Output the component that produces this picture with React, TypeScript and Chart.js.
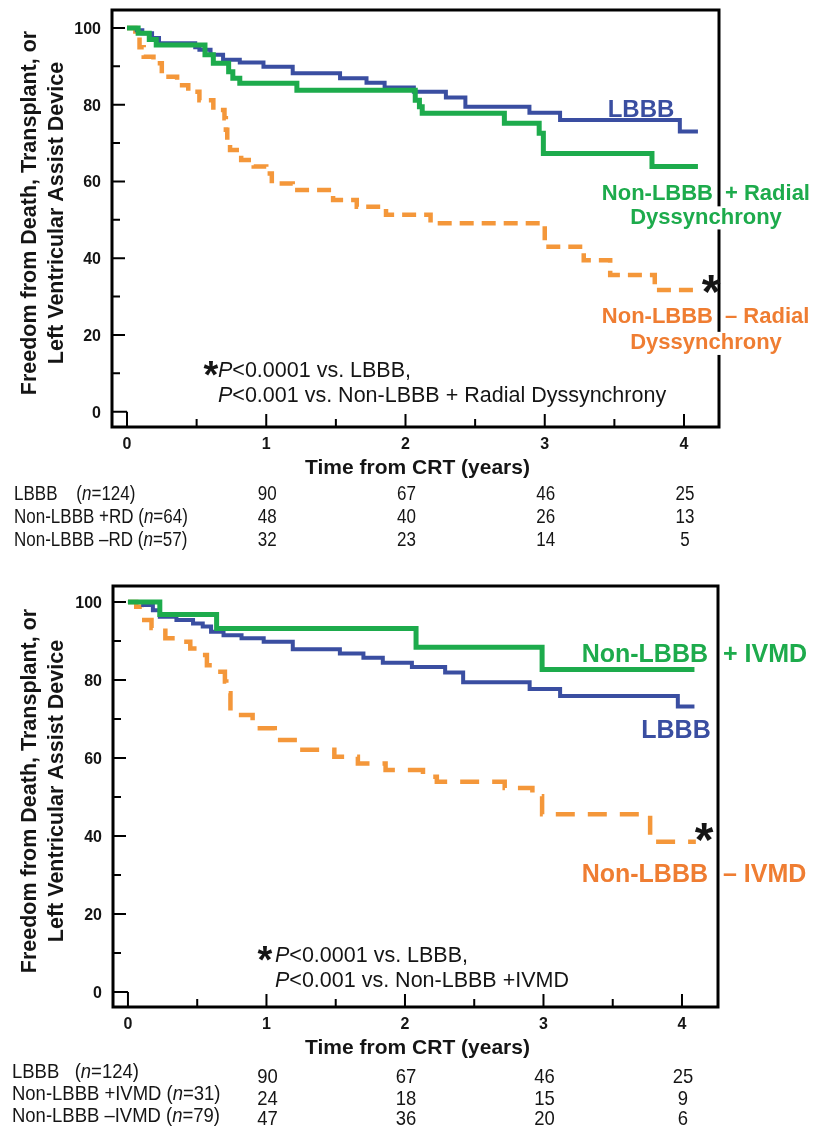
import React, { useEffect, useRef } from 'react';
import { Chart, registerables } from 'chart.js';

Chart.register(...registerables);

const FONT = '"Liberation Sans", Arial, Helvetica, sans-serif';
const BLUE = '#3a4ea1';
const GREEN = '#1dab4c';
const ORANGE_LINE = '#f4973a';
const ORANGE_TEXT = '#ef7d32';
const INK = '#151515';

// ---------- Shared axes ----------
const xTickValues = [0, 1, 2, 3, 4];
const xMinorTickValues = [0.5, 1.5, 2.5, 3.5];
const yTickValues = [0, 20, 40, 60, 80, 100];
const yMinorTickValues = [10, 30, 50, 70, 90];
const xAxisTitle = 'Time from CRT (years)';
const yAxisTitle = ['Freedom from Death, Transplant, or', 'Left Ventricular Assist Device'];
const riskTimes = [1, 2, 3, 4];

// ---------- Panel A (radial dyssynchrony) ----------
const aLbbbTimes = [0, 0.07, 0.11, 0.18, 0.23, 0.49, 0.52, 0.6, 0.69, 0.81, 0.98, 1.19, 1.53, 1.72, 1.85, 2.06, 2.29, 2.43, 2.89, 3.11, 3.97, 4.1];
const aLbbbSurv = [100, 99.4, 98.6, 97.4, 96.0, 95.0, 94.3, 93.0, 91.7, 91.0, 89.9, 88.2, 86.9, 85.7, 84.5, 83.4, 81.9, 79.5, 77.9, 76.0, 73.0, 73.0];

const aRdPlusTimes = [0, 0.08, 0.16, 0.21, 0.56, 0.62, 0.73, 0.76, 0.81, 1.22, 2.07, 2.1, 2.12, 2.71, 2.96, 2.99, 3.77, 4.1];
const aRdPlusSurv = [100, 98.6, 97.0, 95.6, 93.0, 90.8, 88.6, 86.9, 85.6, 83.8, 81.2, 79.5, 77.8, 75.2, 72.6, 67.3, 63.9, 63.9];

const aRdMinusTimes = [0, 0.06, 0.09, 0.12, 0.19, 0.25, 0.36, 0.44, 0.52, 0.62, 0.7, 0.71, 0.72, 0.74, 0.82, 0.91, 1.0, 1.04, 1.19, 1.48, 1.65, 1.86, 2.18, 3.0, 3.28, 3.47, 3.79, 4.1];
const aRdMinusSurv = [100, 97.7, 95.0, 92.5, 90.8, 87.3, 85.1, 83.4, 81.2, 78.6, 76.5, 73.5, 70.8, 68.2, 65.6, 63.9, 62.1, 59.5, 57.8, 55.2, 53.4, 51.3, 49.1, 43.0, 39.5, 35.6, 31.7, 31.7];

const aGroupNames = ['LBBB    ', 'Non-LBBB +RD ', 'Non-LBBB \u2013RD '];
const aGroupN = [124, 64, 57];
const aAtRisk = [
  [90, 67, 46, 25],
  [48, 40, 26, 13],
  [32, 23, 14, 5],
];

// ---------- Panel B (IVMD) ----------
const bLbbbTimes = [0, 0.11, 0.18, 0.23, 0.35, 0.47, 0.54, 0.6, 0.69, 0.82, 0.98, 1.19, 1.53, 1.7, 1.84, 2.05, 2.29, 2.42, 2.9, 3.12, 3.97, 4.09];
const bLbbbSurv = [100, 99.2, 97.9, 96.2, 95.4, 94.5, 93.7, 92.4, 91.5, 90.7, 89.8, 87.9, 86.8, 85.7, 84.4, 83.3, 81.9, 79.4, 77.7, 75.9, 73.2, 73.2];

const bIvmdPlusTimes = [0, 0.23, 0.64, 2.08, 2.99, 4.09];
const bIvmdPlusSurv = [100, 96.8, 93.2, 88.4, 82.7, 82.7];

const bIvmdMinusTimes = [0, 0.06, 0.1, 0.17, 0.27, 0.35, 0.45, 0.5, 0.57, 0.61, 0.7, 0.71, 0.74, 0.79, 0.9, 1.06, 1.23, 1.49, 1.66, 1.86, 2.13, 2.23, 2.72, 2.92, 2.99, 3.77, 4.1];
const bIvmdMinusSurv = [100, 98.8, 95.4, 93.3, 90.7, 89.8, 88.1, 86.4, 83.8, 82.1, 79.6, 76.6, 71.9, 71.0, 67.6, 64.6, 62.1, 60.3, 58.6, 56.9, 55.2, 53.9, 52.3, 50.2, 45.6, 38.5, 38.5];

const bGroupNames = ['LBBB   ', 'Non-LBBB +IVMD ', 'Non-LBBB \u2013IVMD '];
const bGroupN = [124, 31, 79];
const bAtRisk = [
  [90, 67, 46, 25],
  [24, 18, 15, 9],
  [47, 36, 20, 6],
];

// ---------- helpers ----------
type Part = { t: string; f: string; c?: string };
type Label = { text: string; x: number; y: number; font: string; color: string; align?: CanvasTextAlign; whiteBg?: boolean; size?: number };

const toPoints = (times: number[], surv: number[]) => times.map((t, i) => ({ x: t, y: surv[i] }));

function drawParts(ctx: CanvasRenderingContext2D, parts: Part[], x: number, y: number, color: string, sx = 1) {
  ctx.save();
  ctx.translate(x, y);
  ctx.scale(sx, 1);
  let cx = 0;
  ctx.textAlign = 'left';
  ctx.textBaseline = 'alphabetic';
  for (const p of parts) {
    ctx.font = p.f;
    ctx.fillStyle = p.c || color;
    ctx.fillText(p.t, cx, 0);
    cx += ctx.measureText(p.t).width;
  }
  ctx.restore();
}

interface PanelSpec {
  top: number;
  height: number;
  padding: { left: number; right: number; top: number; bottom: number };
  xMin: number; xMax: number; yMin: number; yMax: number;
  series: { data: { x: number; y: number }[]; color: string; width: number; dash?: number[]; order: number }[];
  labels: Label[];
  stars: { x: number; y: number; size: number }[];
  pText: { x: number; y1: number; y2: number; line1: string; line2: string; size: number };
  table: { names: string[]; ns: number[]; counts: number[][]; labelX: number; labelY: number[]; numY: number[]; size: number; sx: number };
  yTitleCenterY: number;
}

function makePlugin(spec: PanelSpec) {
  return {
    id: 'kmDecor',
    afterDraw(chart: any) {
      const { ctx, chartArea: ca, scales } = chart;
      const xs = scales.x;
      const ys = scales.y;
      ctx.save();
      // frame
      ctx.strokeStyle = '#000';
      ctx.lineWidth = 3;
      ctx.lineJoin = 'miter';
      ctx.strokeRect(ca.left, ca.top, ca.right - ca.left, ca.bottom - ca.top);
      // ticks (inward)
      const x0 = xs.getPixelForValue(0);
      const y0 = ys.getPixelForValue(0);
      ctx.lineWidth = 2;
      ctx.beginPath();
      yTickValues.forEach((v) => {
        const y = ys.getPixelForValue(v);
        ctx.moveTo(ca.left, y);
        ctx.lineTo(v === 0 ? x0 : ca.left + 13, y);
      });
      yMinorTickValues.forEach((v) => {
        const y = ys.getPixelForValue(v);
        ctx.moveTo(ca.left, y);
        ctx.lineTo(ca.left + 8, y);
      });
      xTickValues.forEach((v) => {
        const x = xs.getPixelForValue(v);
        ctx.moveTo(x, ca.bottom);
        ctx.lineTo(x, v === 0 ? y0 : ca.bottom - 13);
      });
      xMinorTickValues.forEach((v) => {
        const x = xs.getPixelForValue(v);
        ctx.moveTo(x, ca.bottom);
        ctx.lineTo(x, ca.bottom - 8);
      });
      ctx.stroke();

      // tick labels
      ctx.fillStyle = INK;
      ctx.font = `bold 16px ${FONT}`;
      ctx.textAlign = 'right';
      ctx.textBaseline = 'alphabetic';
      yTickValues.forEach((v) => {
        ctx.fillText(String(v), ca.left - 11, ys.getPixelForValue(v) + 6);
      });
      ctx.textAlign = 'center';
      xTickValues.forEach((v) => {
        ctx.fillText(String(v), xs.getPixelForValue(v), ca.bottom + 22);
      });
      // axis titles
      ctx.font = `bold 21px ${FONT}`;
      ctx.fillText(xAxisTitle, (ca.left + ca.right) / 2 + 2, ca.bottom + 47);
      ctx.save();
      ctx.translate(0, spec.yTitleCenterY - spec.top);
      ctx.rotate(-Math.PI / 2);
      ctx.textBaseline = 'middle';
      ctx.font = `bold 21.5px ${FONT}`;
      ctx.fillText(yAxisTitle[0], 0, 30);
      ctx.fillText(yAxisTitle[1], 0, 57);
      ctx.restore();

      // page-coordinate annotations
      ctx.save();
      ctx.translate(0, -spec.top);
      for (const l of spec.labels) {
        ctx.font = l.font;
        ctx.textAlign = l.align || 'center';
        ctx.textBaseline = 'alphabetic';
        if (l.whiteBg) {
          const w = ctx.measureText(l.text).width;
          const s = l.size || 22;
          const left = l.align === 'left' ? l.x : l.align === 'right' ? l.x - w : l.x - w / 2;
          ctx.fillStyle = '#fff';
          ctx.fillRect(left - 3, l.y - s * 0.78, w + 6, s * 1.05);
        }
        ctx.fillStyle = l.color;
        ctx.fillText(l.text, l.x, l.y);
      }
      ctx.fillStyle = INK;
      ctx.textAlign = 'center';
      for (const s of spec.stars) {
        ctx.font = `bold ${s.size}px ${FONT}`;
        ctx.fillText('*', s.x, s.y + s.size * 0.58);
      }
      const pt = spec.pText;
      const reg = `${pt.size}px ${FONT}`;
      const ita = `italic ${pt.size}px ${FONT}`;
      drawParts(ctx, [{ t: 'P', f: ita }, { t: pt.line1, f: reg }], pt.x, pt.y1, INK);
      drawParts(ctx, [{ t: 'P', f: ita }, { t: pt.line2, f: reg }], pt.x, pt.y2, INK);

      // number-at-risk table
      const tb = spec.table;
      const tr = `${tb.size}px ${FONT}`;
      const ti = `italic ${tb.size}px ${FONT}`;
      tb.names.forEach((name, r) => {
        drawParts(ctx, [{ t: name + '(', f: tr }, { t: 'n', f: ti }, { t: `=${tb.ns[r]})`, f: tr }], tb.labelX, tb.labelY[r], INK, tb.sx);
        tb.counts[r].forEach((c, k) => {
          ctx.save();
          ctx.translate(xs.getPixelForValue(riskTimes[k]) + 1, tb.numY[r]);
          ctx.scale(tb.sx, 1);
          ctx.font = tr;
          ctx.textAlign = 'center';
          ctx.fillStyle = INK;
          ctx.fillText(String(c), 0, 0);
          ctx.restore();
        });
      });
      ctx.restore();
      ctx.restore();
    },
  };
}

const panelA: PanelSpec = {
  top: 0,
  height: 565,
  padding: { left: 112, right: 818 - 719, top: 10, bottom: 565 - 427 },
  xMin: -0.1077, xMax: 4.2513, yMin: -3.99, yMax: 104.69,
  series: [
    { data: toPoints(aRdPlusTimes, aRdPlusSurv), color: GREEN, width: 5, order: 1 },
    { data: toPoints(aLbbbTimes, aLbbbSurv), color: BLUE, width: 4, order: 2 },
    { data: toPoints(aRdMinusTimes, aRdMinusSurv), color: ORANGE_LINE, width: 4.5, dash: [14, 8], order: 3 },
  ],
  labels: [
    { text: 'LBBB', x: 641, y: 117, font: `bold 24px ${FONT}`, color: BLUE, align: 'center' },
    { text: 'Non-LBBB', x: 713, y: 200, font: `bold 22px ${FONT}`, color: GREEN, align: 'right' },
    { text: '+ Radial', x: 725, y: 200, font: `bold 22px ${FONT}`, color: GREEN, align: 'left' },
    { text: 'Dyssynchrony', x: 706, y: 223.5, font: `bold 22px ${FONT}`, color: GREEN, align: 'center', whiteBg: true, size: 22 },
    { text: 'Non-LBBB', x: 713, y: 323, font: `bold 22px ${FONT}`, color: ORANGE_TEXT, align: 'right' },
    { text: '\u2013 Radial', x: 725, y: 323, font: `bold 22px ${FONT}`, color: ORANGE_TEXT, align: 'left' },
    { text: 'Dyssynchrony', x: 706, y: 349, font: `bold 22px ${FONT}`, color: ORANGE_TEXT, align: 'center', whiteBg: true, size: 22 },
  ],
  stars: [
    { x: 711, y: 280, size: 48 },
    { x: 211, y: 366, size: 38 },
  ],
  pText: { x: 218, y1: 377, y2: 401.5, line1: '<0.0001 vs. LBBB,', line2: '<0.001 vs. Non-LBBB + Radial Dyssynchrony', size: 21.5 },
  table: { names: aGroupNames, ns: aGroupN, counts: aAtRisk, labelX: 14, labelY: [500, 523, 546], numY: [500, 523, 546], size: 20, sx: 0.85 },
  yTitleCenterY: 213,
};

const panelB: PanelSpec = {
  top: 565,
  height: 561,
  padding: { left: 113, right: 818 - 718, top: 586 - 565, bottom: 1126 - 1007 },
  xMin: -0.108, xMax: 4.26, yMin: -3.85, yMax: 104.1,
  series: [
    { data: toPoints(bIvmdPlusTimes, bIvmdPlusSurv), color: GREEN, width: 5, order: 1 },
    { data: toPoints(bLbbbTimes, bLbbbSurv), color: BLUE, width: 4, order: 2 },
    { data: toPoints(bIvmdMinusTimes, bIvmdMinusSurv), color: ORANGE_LINE, width: 4.5, dash: [19, 13], order: 3 },
  ],
  labels: [
    { text: 'Non-LBBB', x: 708, y: 662, font: `bold 25px ${FONT}`, color: GREEN, align: 'right' },
    { text: '+ IVMD', x: 723, y: 662, font: `bold 25px ${FONT}`, color: GREEN, align: 'left' },
    { text: 'LBBB', x: 676, y: 738, font: `bold 25px ${FONT}`, color: BLUE, align: 'center' },
    { text: 'Non-LBBB', x: 708, y: 882, font: `bold 25px ${FONT}`, color: ORANGE_TEXT, align: 'right' },
    { text: '\u2013 IVMD', x: 723, y: 882, font: `bold 25px ${FONT}`, color: ORANGE_TEXT, align: 'left' },
  ],
  stars: [
    { x: 704, y: 828, size: 48 },
    { x: 265, y: 951, size: 38 },
  ],
  pText: { x: 275, y1: 961.5, y2: 986.5, line1: '<0.0001 vs. LBBB,', line2: '<0.001 vs. Non-LBBB +IVMD', size: 21.5 },
  table: { names: bGroupNames, ns: bGroupN, counts: bAtRisk, labelX: 12, labelY: [1077.5, 1099.5, 1121.5], numY: [1082.5, 1104.5, 1125], size: 21, sx: 0.88 },
  yTitleCenterY: 791,
};

function KMPanel({ spec }: { spec: PanelSpec }) {
  const ref = useRef<HTMLCanvasElement>(null);
  useEffect(() => {
    if (!ref.current) return;
    const chart = new Chart(ref.current, {
      type: 'line',
      data: {
        datasets: spec.series.map((s) => ({
          data: s.data,
          borderColor: s.color,
          backgroundColor: s.color,
          borderWidth: s.width,
          borderDash: s.dash || [],
          stepped: 'before' as const,
          pointRadius: 0,
          fill: false,
          order: s.order,
          borderCapStyle: 'butt' as const,
          borderJoinStyle: 'miter' as const,
        })),
      },
      options: {
        responsive: false,
        animation: false,
        events: [],
        layout: { padding: spec.padding },
        plugins: { legend: { display: false }, tooltip: { enabled: false }, title: { display: false } },
        scales: {
          x: { type: 'linear', min: spec.xMin, max: spec.xMax, display: false },
          y: { type: 'linear', min: spec.yMin, max: spec.yMax, display: false },
        },
      },
      plugins: [makePlugin(spec)],
    });
    return () => chart.destroy();
  }, [spec]);
  return (
    <canvas
      ref={ref}
      width={818}
      height={spec.height}
      style={{ position: 'absolute', left: 0, top: spec.top, display: 'block', width: 818, height: spec.height }}
    />
  );
}

export default function App() {
  return (
    <div style={{ position: 'absolute', left: 0, top: 0, width: 818, height: 1126, background: '#fff', overflow: 'hidden' }}>
      <KMPanel spec={panelA} />
      <KMPanel spec={panelB} />
    </div>
  );
}
